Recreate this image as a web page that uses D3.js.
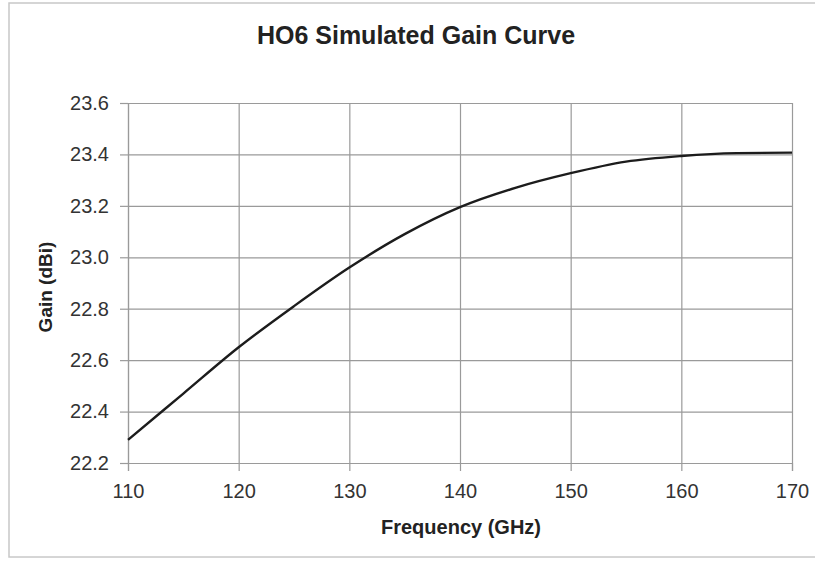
<!DOCTYPE html>
<html>
<head>
<meta charset="UTF-8">
<title>HO6 Simulated Gain Curve</title>
<script src="https://cdn.jsdelivr.net/npm/d3@7/dist/d3.min.js"></script>
<style>
body { margin: 0; background: #fff; }
svg text { font-family: "Liberation Sans", Arial, sans-serif; }
</style>
</head>
<body>
<div id="chart"></div>
<script>
// values
var freq = [110, 115, 120, 125, 130, 135, 140, 145, 150, 155, 160, 165, 170];
var gain = [22.29, 22.47, 22.65, 22.81, 22.96, 23.09, 23.195, 23.27, 23.327, 23.372, 23.394, 23.405, 23.407];
var xTicks = [110, 120, 130, 140, 150, 160, 170];
var yTicks = [22.2, 22.4, 22.6, 22.8, 23.0, 23.2, 23.4, 23.6];

var W = 815, H = 563;
var margin = {top: 103, right: 23, bottom: 100, left: 128};
var width = W - margin.left - margin.right,
    height = H - margin.top - margin.bottom;

var svg = d3.select('#chart').append('svg')
    .attr('width', W)
    .attr('height', H);

// outer frame
svg.append('rect')
    .attr('x', 9).attr('y', 3)
    .attr('width', 815).attr('height', 554)
    .attr('fill', 'none')
    .attr('stroke', '#c8c8c8')
    .attr('stroke-width', 1.5);

var x = d3.scaleLinear().domain([110, 170]).range([0, width]);
var y = d3.scaleLinear().domain([22.2, 23.6]).range([height, 0]);

var g = svg.append('g')
    .attr('transform', 'translate(' + margin.left + ',' + margin.top + ')');

// grid
g.append('g')
    .attr('class', 'grid')
    .call(d3.axisLeft(y).tickValues(yTicks).tickSize(-width).tickFormat(''))
    .call(function(s){ s.select('.domain').remove(); })
    .selectAll('line').attr('stroke', '#9a9a9a').attr('stroke-width', 1.2);

g.append('g')
    .attr('class', 'grid')
    .attr('transform', 'translate(0,' + height + ')')
    .call(d3.axisBottom(x).tickValues(xTicks).tickSize(-height).tickFormat(''))
    .call(function(s){ s.select('.domain').remove(); })
    .selectAll('line').attr('stroke', '#9a9a9a').attr('stroke-width', 1.2);

// axes
var yAxis = g.append('g')
    .call(d3.axisLeft(y).tickValues(yTicks).tickSize(8).tickPadding(11).tickFormat(d3.format('.1f')));
yAxis.select('.domain').attr('stroke', '#9a9a9a').attr('stroke-width', 1.2);
yAxis.selectAll('line').attr('stroke', '#9a9a9a').attr('stroke-width', 1.2);
yAxis.selectAll('text').attr('font-size', 20).attr('fill', '#333');

var xAxis = g.append('g')
    .attr('transform', 'translate(0,' + height + ')')
    .call(d3.axisBottom(x).tickValues(xTicks).tickSize(8).tickPadding(13));
xAxis.select('.domain').attr('stroke', '#9a9a9a').attr('stroke-width', 1.2);
xAxis.selectAll('line').attr('stroke', '#9a9a9a').attr('stroke-width', 1.2);
xAxis.selectAll('text').attr('font-size', 20).attr('fill', '#333');

// curve
var line = d3.line()
    .x(function(d, i){ return x(freq[i]); })
    .y(function(d){ return y(d); })
    .curve(d3.curveMonotoneX);

g.append('path')
    .datum(gain)
    .attr('fill', 'none')
    .attr('stroke', '#1c1c1c')
    .attr('stroke-width', 2.4)
    .attr('d', line);

// titles
svg.append('text')
    .attr('x', 416).attr('y', 44)
    .attr('text-anchor', 'middle')
    .attr('font-size', 25)
    .attr('font-weight', 'bold')
    .attr('fill', '#222')
    .text('HO6 Simulated Gain Curve');

svg.append('text')
    .attr('x', 461).attr('y', 534)
    .attr('text-anchor', 'middle')
    .attr('font-size', 20)
    .attr('font-weight', 'bold')
    .attr('fill', '#222')
    .text('Frequency (GHz)');

svg.append('text')
    .attr('transform', 'translate(52,' + 287 + ') rotate(-90)')
    .attr('text-anchor', 'middle')
    .attr('font-size', 19)
    .attr('font-weight', 'bold')
    .attr('fill', '#222')
    .text('Gain (dBi)');
</script>
</body>
</html>
